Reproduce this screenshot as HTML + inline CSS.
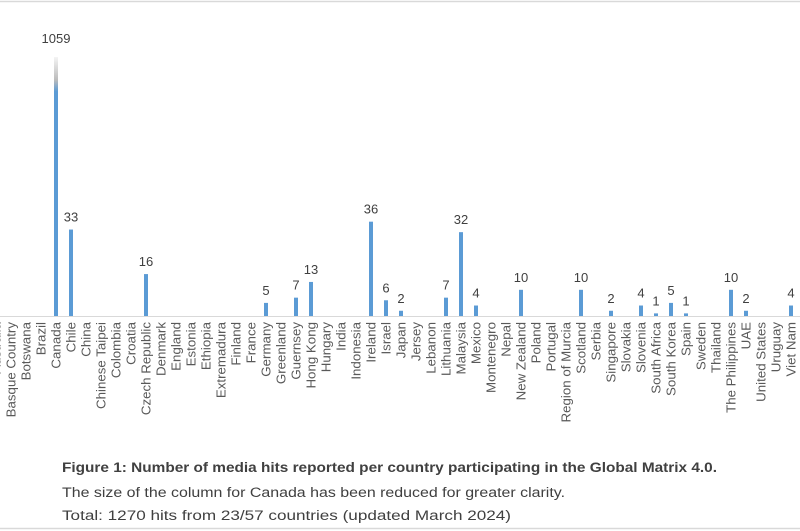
<!DOCTYPE html>
<html><head><style>body{margin:0;background:#fff}svg{display:block}</style></head><body>
<svg width="800" height="531" xmlns="http://www.w3.org/2000/svg" font-family="Liberation Sans, sans-serif">
<defs><linearGradient id="g" x1="0" y1="0" x2="0" y2="1"><stop offset="0" stop-color="#f4f4f4"/><stop offset="0.5" stop-color="#bbb"/><stop offset="0.75" stop-color="#5b9bd5"/><stop offset="1" stop-color="#5b9bd5"/></linearGradient></defs>
<line x1="0" y1="1.5" x2="800" y2="1.5" stroke="#d9d9d9" stroke-width="1.5"/>
<line x1="0" y1="528.5" x2="800" y2="528.5" stroke="#d9d9d9" stroke-width="1.5"/>
<line x1="0" y1="316.5" x2="800" y2="316.5" stroke="#d9d9d9"/>
<rect x="54" y="57" width="4" height="46" fill="url(#g)"/>
<rect x="54" y="100" width="4" height="216" fill="#5b9bd5"/>
<text x="56" y="43" font-size="13" fill="#404040" text-anchor="middle">1059</text>
<g id="bars" fill="#5b9bd5"></g>
<g id="vals" font-size="13" fill="#404040" text-anchor="middle"></g>
<g id="labs" font-size="13.3" fill="#595959"></g>
<g font-size="13.5" fill="#404040">
<text x="62" y="472" font-weight="bold" textLength="655" lengthAdjust="spacingAndGlyphs">Figure 1: Number of media hits reported per country participating in the Global Matrix 4.0.</text>
<text x="62" y="497" textLength="503" lengthAdjust="spacingAndGlyphs">The size of the column for Canada has been reduced for greater clarity.</text>
<text x="62" y="520" textLength="449" lengthAdjust="spacingAndGlyphs">Total: 1270 hits from 23/57 countries (updated March 2024)</text>
</g>
</svg>
<script>
var names=["Australia","Basque Country","Botswana","Brazil","Canada","Chile","China","Chinese Taipei","Colombia","Croatia","Czech Republic","Denmark","England","Estonia","Ethiopia","Extremadura","Finland","France","Germany","Greenland","Guernsey","Hong Kong","Hungary","India","Indonesia","Ireland","Israel","Japan","Jersey","Lebanon","Lithuania","Malaysia","Mexico","Montenegro","Nepal","New Zealand","Poland","Portugal","Region of Murcia","Scotland","Serbia","Singapore","Slovakia","Slovenia","South Africa","South Korea","Spain","Sweden","Thailand","The Philippines","UAE","United States","Uruguay","Viet Nam"];
var v={"Chile":33,"Czech Republic":16,"Germany":5,"Guernsey":7,"Hong Kong":13,"Ireland":36,"Israel":6,"Japan":2,"Lithuania":7,"Malaysia":32,"Mexico":4,"New Zealand":10,"Scotland":10,"Singapore":2,"Slovenia":4,"South Africa":1,"South Korea":5,"Spain":1,"The Philippines":10,"UAE":2,"Viet Nam":4};
var ns="http://www.w3.org/2000/svg",B=document.getElementById("bars"),V=document.getElementById("vals"),L=document.getElementById("labs");
names.forEach(function(n,i){var x=-4+15*i;
var t=document.createElementNS(ns,"text");t.setAttribute("transform","translate("+(x+4.5)+",322) rotate(-90)");t.setAttribute("text-anchor","end");t.textContent=n;L.appendChild(t);
if(v[n]){var h=v[n]*2.62;var r=document.createElementNS(ns,"rect");r.setAttribute("x",x-2);r.setAttribute("y",316-h);r.setAttribute("width",4);r.setAttribute("height",h);B.appendChild(r);
var s=document.createElementNS(ns,"text");s.setAttribute("x",x);s.setAttribute("y",316-h-8);s.textContent=v[n];V.appendChild(s);}});
</script>
</body></html>
